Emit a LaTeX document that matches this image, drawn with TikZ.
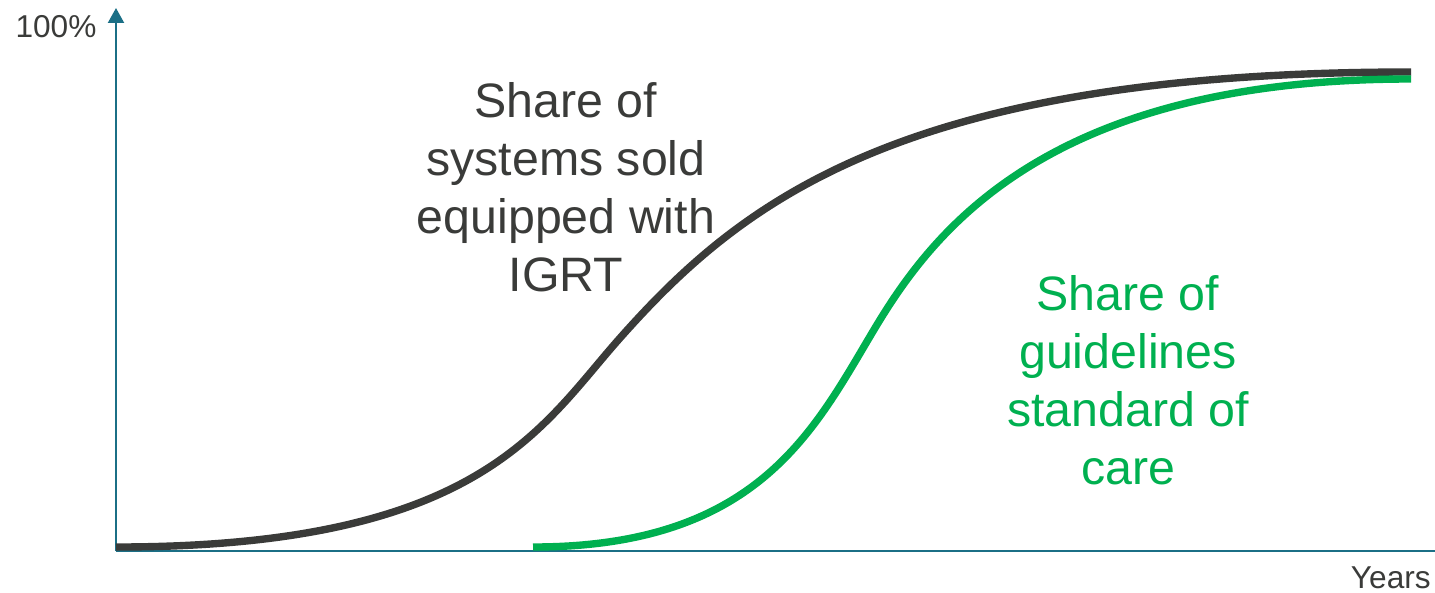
\documentclass[tikz,border=0pt]{standalone}
\usepackage{fontspec}
\setmainfont{Liberation Sans}
\usetikzlibrary{arrows.meta}
\definecolor{axisteal}{HTML}{1B6F86}
\definecolor{curvegrey}{HTML}{3A3B39}
\definecolor{curvegreen}{HTML}{00B050}
\tikzset{
  axisline/.style={draw=axisteal, line width=1.2pt},
  curveline/.style={line width=4.2pt, line join=round},
  axislabel/.style={text=curvegrey, font=\fontsize{18}{21}\selectfont, inner sep=0pt},
  curvelabel/.style={align=center, inner sep=0pt, font=\fontsize{27.5}{33}\selectfont}
}
\begin{document}
\begin{tikzpicture}[x=0.02cm, y=-0.02cm]
  \useasboundingbox (0,0) rectangle (1435,592);

  % axes
  \coordinate (origin) at (116,551);
  \coordinate (ytop) at (116,8);
  \coordinate (xend) at (1435,551);
  \draw[axisline, -{Triangle[width=0.32cm, length=0.3cm]}] (origin) -- (ytop);
  \draw[axisline] (origin) -- (xend);

  \node[axislabel, anchor=base] (ymax) at (56,37) {100\%};
  \node[axislabel, anchor=base east] (xname) at (1431,588) {Years};

  % adoption of systems equipped with IGRT
  \coordinate (g0) at (116,547);
  \coordinate (g1) at (620,338);
  \coordinate (g2) at (1411,72);
  \draw[curveline, curvegrey]
    (g0) .. controls (480,547) and (540,428) .. (g1)
         .. controls (740,203) and (900,72) .. (g2);

  % adoption in guidelines as standard of care
  \coordinate (s0) at (533,547);
  \coordinate (s1) at (875,328);
  \coordinate (s2) at (1411,79);
  \draw[curveline, curvegreen]
    (s0) .. controls (760,547) and (815,428) .. (s1)
         .. controls (935,228) and (1050,79) .. (s2);

  \node[curvelabel, text=curvegrey] (igrt) at (566,187)
    {Share of\\systems sold\\equipped with\\IGRT};
  \node[curvelabel, text=curvegreen] (guide) at (1128,380)
    {Share of\\guidelines\\standard of\\care};
\end{tikzpicture}
\end{document}
